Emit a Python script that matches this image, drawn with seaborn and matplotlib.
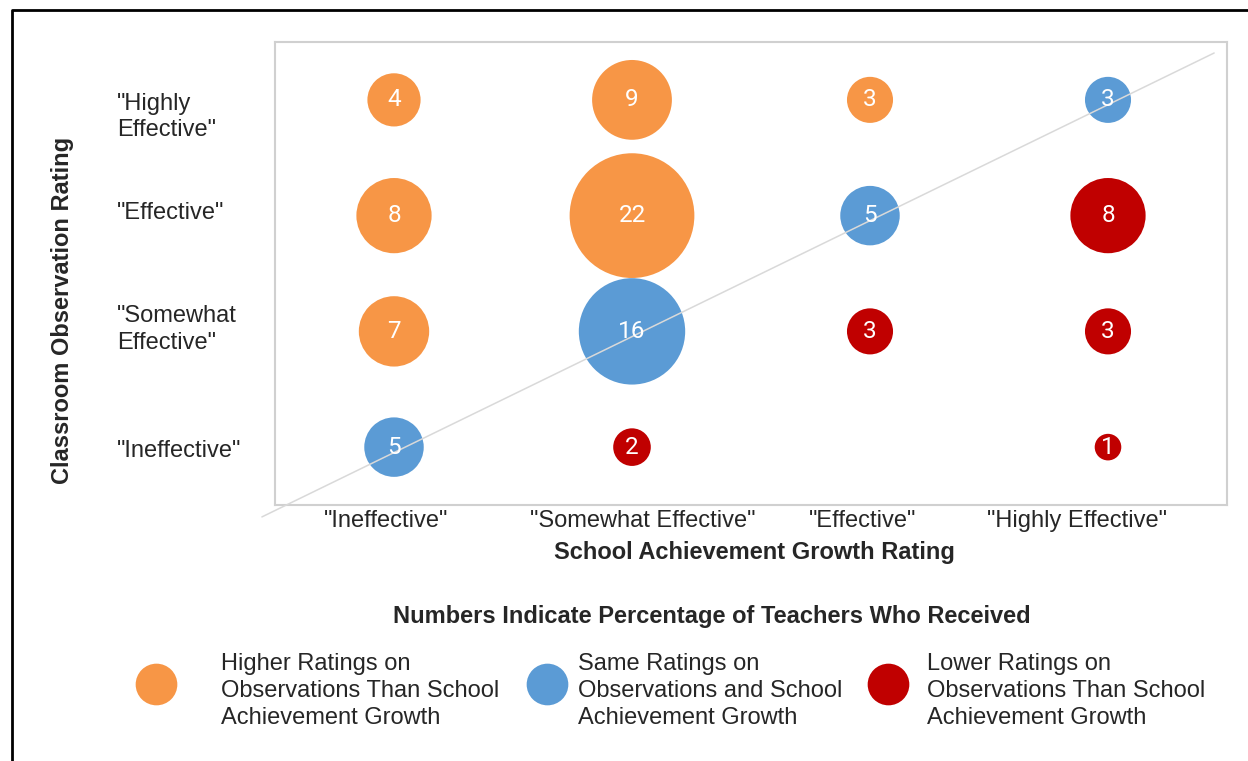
import numpy as np
import pandas as pd
import matplotlib
matplotlib.use("Agg")
import matplotlib.pyplot as plt
import matplotlib.transforms as mtransforms
from matplotlib.lines import Line2D
import seaborn as sns

# ---------------- data ----------------
growth_labels = ['"Ineffective"', '"Somewhat Effective"', '"Effective"', '"Highly Effective"']
observation_labels = ['"Ineffective"', '"Somewhat\nEffective"', '"Effective"', '"Highly\nEffective"']
# percentage of teachers; one list per observation rating, ordered by growth rating
pct_obs_ineffective = [5, 2, None, 1]
pct_obs_somewhat = [7, 16, 3, 3]
pct_obs_effective = [8, 22, 5, 8]
pct_obs_highly = [4, 9, 3, 3]
group_names = ["Higher", "Same", "Lower"]
group_texts = ["Higher Ratings on\nObservations Than School\nAchievement Growth",
               "Same Ratings on\nObservations and School\nAchievement Growth",
               "Lower Ratings on\nObservations Than School\nAchievement Growth"]
group_colors = ["#F79646", "#5B9BD5", "#C00000"]
x_title = "School Achievement Growth Rating"
y_title = "Classroom Observation Rating"
legend_title = "Numbers Indicate Percentage of Teachers Who Received"

rows = [pct_obs_ineffective, pct_obs_somewhat, pct_obs_effective, pct_obs_highly]
recs = []
for yi, row in enumerate(rows):
    for xi, v in enumerate(row):
        if v is None:
            continue
        g = "Higher" if yi > xi else ("Same" if yi == xi else "Lower")
        recs.append(dict(x=xi, y=yi, pct=v, group=g))
df = pd.DataFrame(recs)

# ---------------- figure ----------------
W, H = 1248, 761
fig = plt.figure(figsize=(W / 100, H / 100), dpi=100)
sns.set_style("white")
plt.rcParams['font.family'] = ['Liberation Sans', 'DejaVu Sans']

def fx(px):
    return px / W

def fy(py):
    return 1 - py / H

ax = fig.add_axes([fx(275), fy(505), fx(1227) - fx(275), fy(42) - fy(505)])

scale = 366.7  # marker area (pt^2) per percentage point
sns.scatterplot(data=df, x="x", y="y", hue="group", size="pct",
                hue_order=group_names, palette=group_colors,
                size_norm=(0, 22), sizes=(0, scale * 22),
                linewidth=0, legend=False, ax=ax, zorder=1)

# diagonal reference line
ax.plot([-0.555, 3.446], [-0.603, 3.405], color="#D9D9D9", lw=1.1,
        clip_on=False, zorder=3)

num_font = ['Roboto', 'DejaVu Sans']
for _, r in df.iterrows():
    ax.text(r.x, r.y, f"{int(r.pct)}", ha="center", va="center", color="white",
            fontsize=17.5, family=num_font, zorder=4)

ax.set_xlim(-0.5, 3.5)
ax.set_ylim(-0.5, 3.5)
ax.set_xticks([])
ax.set_yticks([])
ax.set_xlabel("")
ax.set_ylabel("")
for s in ax.spines.values():
    s.set_color("#D0D0D0")
    s.set_linewidth(1.5)

txt_color = "#262626"
fs = 17

# x category labels (text boxes, slightly offset like the original)
x_off_px = [-8, 11, -7, -31]
for i, lab in enumerate(growth_labels):
    tr = mtransforms.blended_transform_factory(ax.transData, fig.transFigure)
    tr = tr + mtransforms.ScaledTranslation(x_off_px[i] / 100, 0, fig.dpi_scale_trans)
    ax.text(i, fy(521), lab, transform=tr, ha="center", va="center",
            fontsize=fs, color=txt_color)

# y category labels
y_off_px = [4, -2, -3, 17]
for i, lab in enumerate(observation_labels):
    tr = mtransforms.blended_transform_factory(fig.transFigure, ax.transData)
    tr = tr + mtransforms.ScaledTranslation(0, -y_off_px[i] / 100, fig.dpi_scale_trans)
    ax.text(fx(117), i, lab, transform=tr, ha="left", va="center",
            fontsize=fs, color=txt_color, linespacing=1.27)

# axis titles
fig.text(fx(754), fy(553), x_title, ha="center", va="center", fontsize=fs,
         fontweight="bold", color=txt_color)
fig.text(fx(63), fy(310), y_title, ha="center", va="center", fontsize=fs,
         fontweight="bold", color=txt_color, rotation=90)

# legend
fig.text(fx(712), fy(617), legend_title, ha="center", va="center", fontsize=fs,
         fontweight="bold", color=txt_color)
marker_x = [156, 547, 888]
text_x = [221, 578, 927]
for i in range(3):
    fig.add_artist(Line2D([fx(marker_x[i])], [fy(684)], marker="o", ls="none",
                          markersize=30, markerfacecolor=group_colors[i],
                          markeredgewidth=0, transform=fig.transFigure))
    fig.text(fx(text_x[i]), fy(691), group_texts[i], ha="left", va="center",
             fontsize=fs, color=txt_color, linespacing=1.27)

# outer frame
fig.add_artist(Line2D([fx(12), fx(12), fx(1260)], [fy(770), fy(10), fy(10)],
                      color="black", lw=2, transform=fig.transFigure))

fig.savefig("out.png", dpi=100)
